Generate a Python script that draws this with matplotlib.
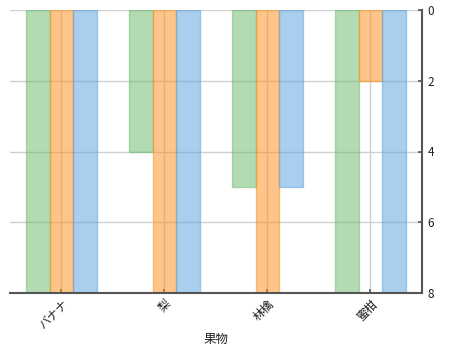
import matplotlib.pyplot as plt
import numpy as np

plt.rcParams['font.family'] = ['Noto Sans CJK JP', 'DejaVu Sans']

fruits = ['バナナ', '梨', '林檎', '蜜柑']
series_a = [8, 4, 5, 8]
series_b = [8, 8, 8, 2]
series_c = [8, 8, 5, 8]
y_ticks = [0, 2, 4, 6, 8]

colors = ['#67b96b', '#fd8d15', '#579fdd']

fig = plt.figure(figsize=(4.59, 3.52), dpi=100)
ax = fig.add_axes([10 / 459, 1 - 293 / 352, 412 / 459, 283 / 352])

x = np.arange(len(fruits))
w = 0.233
for i, (vals, c) in enumerate(zip([series_a, series_b, series_c], colors)):
    ax.bar(x + (i - 1) * w, vals, width=w, color=c, alpha=0.5,
           edgecolor=c, linewidth=1, zorder=2)

ax.set_xlim(-0.5, 3.5)
ax.set_ylim(8, 0)
ax.set_yticks(y_ticks)
ax.yaxis.tick_right()
ax.set_xticks(x)
ax.set_xticklabels(fruits, rotation=45, ha='right', rotation_mode='anchor')
ax.grid(True, color='#d0d0d0', linewidth=1, zorder=1)
ax.set_axisbelow(True)

for s in ['left', 'top']:
    ax.spines[s].set_visible(False)
for s in ['right', 'bottom']:
    ax.spines[s].set_color('#555555')
    ax.spines[s].set_linewidth(1.5)

ax.tick_params(axis='both', direction='in', length=3, width=1.2,
               color='#555555', labelsize=8.5, labelcolor='#222222')
ax.tick_params(axis='y', pad=4)
ax.tick_params(axis='x', pad=3)
ax.set_xlabel('果物', fontsize=9, color='#222222', labelpad=1)

fig.savefig('out.png', dpi=100)
